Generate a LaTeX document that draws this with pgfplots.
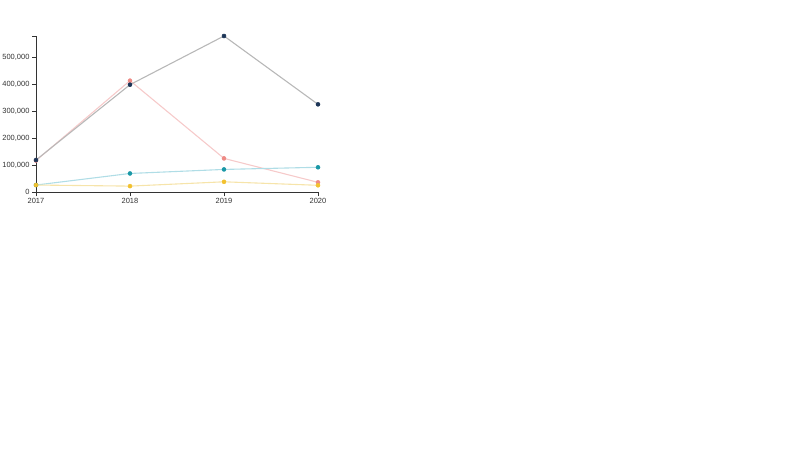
\documentclass[border=0pt]{standalone}
\usepackage{fontspec}
\setmainfont{Liberation Sans}
\usepackage{pgfplots}
\pgfplotsset{compat=1.18}

\definecolor{navyM}{HTML}{1D3557}
\definecolor{greyL}{HTML}{B8B8B8}
\definecolor{pinkM}{HTML}{EE8A85}
\definecolor{pinkL}{HTML}{F6CACA}
\definecolor{tealM}{HTML}{1A98A6}
\definecolor{tealL}{HTML}{B0DDE6}
\definecolor{yelM}{HTML}{F2C12E}
\definecolor{yelL}{HTML}{F6E4AA}
\definecolor{axisC}{HTML}{333333}

\begin{document}
\begin{tikzpicture}[x=1pt,y=1pt]
\useasboundingbox (0,0) rectangle (800,450);
\begin{axis}[
    at={(36pt,257.7pt)}, anchor=south west,
    scale only axis,
    width=282pt, height=156.3pt,
    xmin=2017, xmax=2020, ymin=0, ymax=581000,
    enlargelimits=false,
    axis lines=left,
    axis line style={-, axisC, line width=0.8pt},
    tick style={axisC, line width=0.8pt},
    tick align=outside,
    major tick length=4pt,
    xtick={2017,2018,2019,2020},
    xticklabels={2017,2018,2019,2020},
    ytick={0,100000,200000,300000,400000,500000},
    yticklabels={0,{100,000},{200,000},{300,000},{400,000},{500,000}},
    extra y ticks={581000}, extra y tick labels={},
    scaled y ticks=false,
    xticklabel style={font=\fontsize{7.5}{8}\selectfont, text=axisC, yshift=2pt},
    yticklabel style={font=\fontsize{7.5}{8}\selectfont, text=axisC, xshift=1pt},
    clip=false,
    every axis plot/.append style={line width=1.1pt},
]
\addplot[pinkL, mark=*, mark size=2pt, mark options={solid, fill=pinkM, draw=pinkM, line width=0.5pt}]
  coordinates {(2017,118000) (2018,415000) (2019,126000) (2020,37000)};
\addplot[greyL, mark=*, mark size=2pt, mark options={solid, fill=navyM, draw=navyM, line width=0.5pt}]
  coordinates {(2017,120000) (2018,400000) (2019,581000) (2020,327000)};
\addplot[tealL, mark=*, mark size=2pt, mark options={solid, fill=tealM, draw=tealM, line width=0.5pt}]
  coordinates {(2017,27000) (2018,70000) (2019,85000) (2020,93000)};
\addplot[yelL, mark=*, mark size=2pt, mark options={solid, fill=yelM, draw=yelM, line width=0.5pt}]
  coordinates {(2017,27000) (2018,23000) (2019,39000) (2020,26000)};
\end{axis}
\end{tikzpicture}
\end{document}
